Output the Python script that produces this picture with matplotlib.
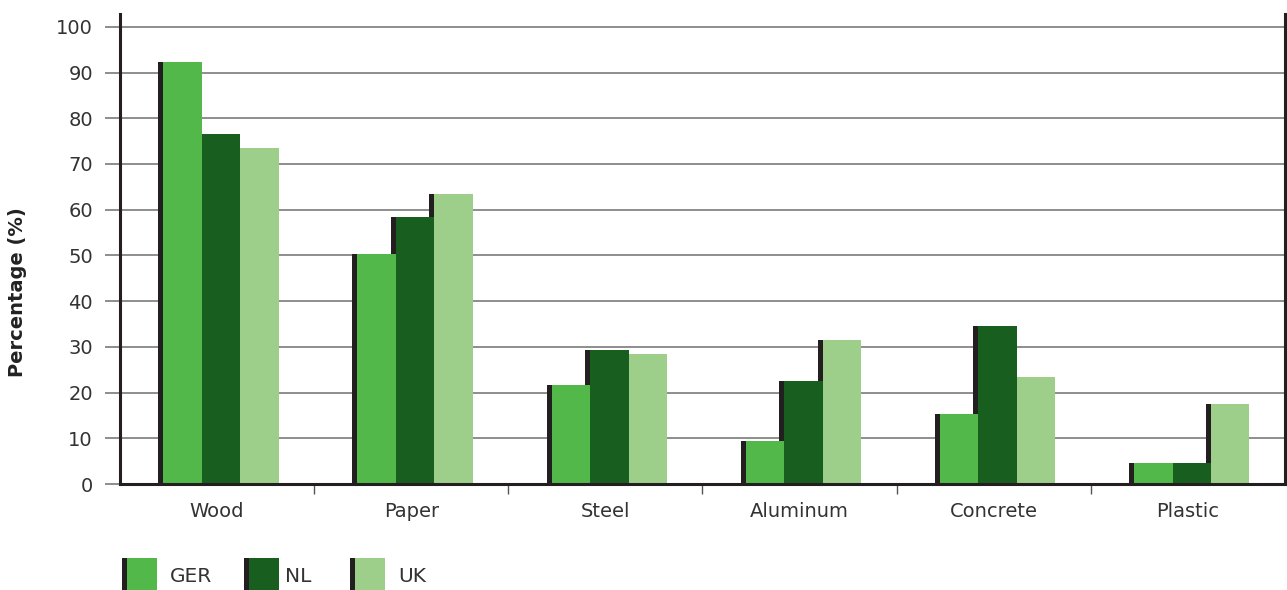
import matplotlib.pyplot as plt
import numpy as np
from matplotlib.patches import Rectangle

plt.rcParams['font.family'] = ['DejaVu Sans']

# material shares per country
materials = ['Wood', 'Paper', 'Steel', 'Aluminum', 'Concrete', 'Plastic']
countries = ['GER', 'NL', 'UK']
ger = [92.3, 50.4, 21.7, 9.5, 15.4, 4.7]
nl = [76.5, 58.5, 29.4, 22.5, 34.5, 4.7]
uk = [73.6, 63.5, 28.5, 31.6, 23.5, 17.6]
yticks = list(range(0, 101, 10))

colors = ['#52b84a', '#175e1f', '#9ecf8a']
edge_dark = '#231f20'
grid_col = '#7a7a7a'

W, H = 1287, 590
fig = plt.figure(figsize=(W / 100, H / 100), dpi=100)
ax = fig.add_axes([120 / W, 1 - 484 / H, 1165 / W, 470 / H])

x = np.arange(len(materials))
bw = 0.198      # bar width
sw = 0.026      # dark side strip width
shift = 0.02

for k, (vals, col) in enumerate(zip([ger, nl, uk], colors)):
    left = x + shift + (k - 1) * bw - bw / 2
    # dark side face sits behind the neighbouring bar
    ax.bar(left - sw, vals, width=sw, align='edge', color=edge_dark, zorder=2.5, linewidth=0)
    ax.bar(left, vals, width=bw, align='edge', color=col, zorder=3, linewidth=0)

ax.set_xlim(-0.5, len(materials) - 0.5)
ax.set_ylim(0, 102.8)
ax.set_yticks(yticks)
ax.set_yticklabels([str(v) for v in yticks], fontsize=14, color='#333333')
ax.set_xticks(x)
ax.set_xticklabels(materials, fontsize=14, color='#333333')
ax.set_xticks(np.arange(0.5, len(materials) - 1, 1), minor=True)

ax.tick_params(axis='x', which='major', length=0, pad=13)
ax.tick_params(axis='x', which='minor', length=7, width=1, color='#555555', direction='out')
ax.tick_params(axis='y', length=10.5, width=1.2, color=grid_col, pad=9, direction='out')

ax.grid(axis='y', color=grid_col, linewidth=1.2)
ax.set_axisbelow(True)

for side in ['left', 'bottom', 'right']:
    ax.spines[side].set_color(edge_dark)
    ax.spines[side].set_linewidth(2.2)
    ax.spines[side].set_zorder(4)
ax.spines['top'].set_visible(False)

fig.text(18 / W, 1 - 292 / H, 'Percentage (%)', rotation=90, ha='center', va='center',
         fontsize=14, fontweight='bold', color='#222222')

# legend swatches along the bottom edge
leg_x = [122, 244, 350]
txt_x = [170, 285, 398]
for name, col, lx, tx in zip(countries, colors, leg_x, txt_x):
    fig.add_artist(Rectangle((lx / W, 0), 5 / W, 32 / H, transform=fig.transFigure,
                             color=edge_dark, lw=0))
    fig.add_artist(Rectangle(((lx + 5) / W, 0), 30 / W, 32 / H, transform=fig.transFigure,
                             color=col, lw=0))
    fig.text(tx / W, 1 - 577 / H, name, ha='left', va='center', fontsize=14.5, color='#333333')

fig.savefig('out.png', dpi=100)
